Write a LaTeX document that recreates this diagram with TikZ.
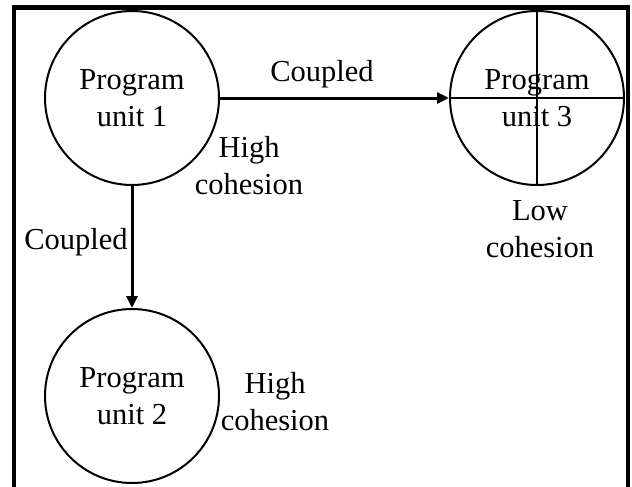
\documentclass[tikz,border=0pt]{standalone}
\usepackage{fontspec}
\setmainfont{Liberation Serif}
\usetikzlibrary{positioning,arrows.meta}

\begin{document}
\begin{tikzpicture}[x=1pt,y=-1pt,>={Triangle[length=12pt,width=11pt]},
  every node/.style={font=\fontsize{30.5}{37}\selectfont,align=center},
  unit/.style={draw,circle,line width=2pt,minimum size=174pt,inner sep=0pt}]
  \useasboundingbox (0,0) rectangle (632,487);
  % Outer frame (its bottom edge runs off the page)
  \draw[line width=4.5pt] (14,500) -- (14,7.5) -- (628,7.5) -- (628,500);
  % Program units
  \node[unit] (unit1) at (132,98) {Program\\unit 1};
  \node[unit] (unit2) at (132,396) {Program\\unit 2};
  \node[unit] (unit3) at (537,98) {Program\\unit 3};
  \draw[line width=2.5pt] (unit3.north) -- (unit3.south);
  \draw[line width=2.5pt] (unit3.west) -- (unit3.east);
  % Couplings
  \draw[->,line width=3pt] (unit1) -- (unit3);
  \draw[->,line width=3pt] (unit1) -- (unit2);
  \node (coupled13) at (322,74) {Coupled};
  \node (coupled12) at (76,242) {Coupled};
  % Cohesion labels
  \node (cohesion1) at (249,166) {High\\cohesion};
  \node (cohesion2) at (275,402) {High\\cohesion};
  \node (cohesion3) at (540,229) {Low\\cohesion};
\end{tikzpicture}
\end{document}
